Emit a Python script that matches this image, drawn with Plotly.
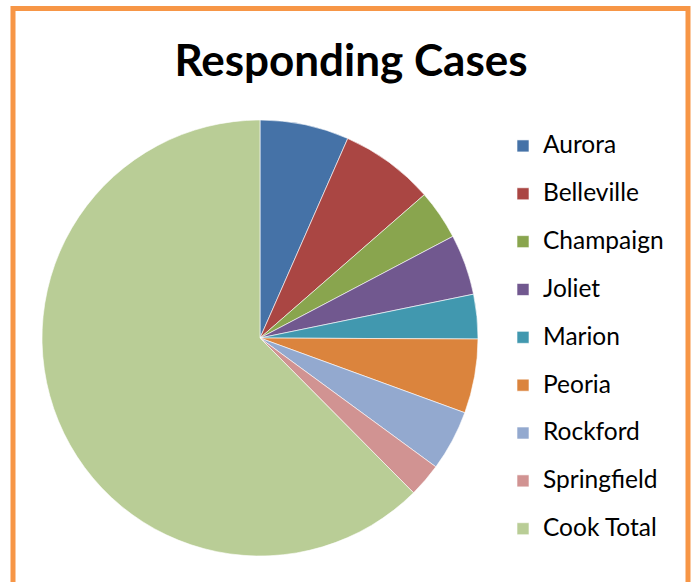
import plotly.graph_objects as go

categories = ["Aurora", "Belleville", "Champaign", "Joliet", "Marion",
              "Peoria", "Rockford", "Springfield", "Cook Total"]
cases = [66, 70, 37, 45, 33, 55, 45, 25, 625]
colors = ["#4572A7", "#AA4643", "#89A54E", "#71588F", "#4198AF",
          "#DB843D", "#93A9CF", "#D19392", "#B9CD96"]

W, H = 691, 582
cx, cy, r = 260, 338, 218

labels = ['<span style="font-size:24.5px;baseline-shift:6px">%s</span>' % c
          for c in categories]

fig = go.Figure(go.Pie(
    labels=labels,
    values=cases,
    sort=False,
    direction="clockwise",
    rotation=0,
    marker=dict(colors=colors, line=dict(color="#FFFFFF", width=0.6)),
    textinfo="none",
    hoverinfo="label+value+percent",
    domain=dict(x=[(cx - r) / W, (cx + r) / W],
                y=[(H - cy - r) / H, (H - cy + r) / H]),
))

fig.update_layout(
    width=W, height=H,
    margin=dict(l=0, r=0, t=0, b=0),
    paper_bgcolor="white",
    font=dict(family="Lato, sans-serif", color="#000000"),
    title=dict(text="<b>Responding Cases</b>", x=351 / W, xanchor="center",
               y=1 - 61 / H, yanchor="middle",
               font=dict(size=44, family="Lato, sans-serif", color="#000000")),
    legend=dict(x=503 / W, xanchor="left", y=1 - 117 / H, yanchor="top",
                font=dict(size=34.5, family="Lato, sans-serif", color="#000000"),
                itemwidth=30, traceorder="normal", bgcolor="rgba(0,0,0,0)"),
    shapes=[dict(type="rect", xref="paper", yref="paper",
                 x0=13 / W, x1=688 / W, y0=-0.05, y1=1 - 8.5 / H,
                 line=dict(color="#F79646", width=5), fillcolor="rgba(0,0,0,0)")],
)

fig.write_html("out.html")
